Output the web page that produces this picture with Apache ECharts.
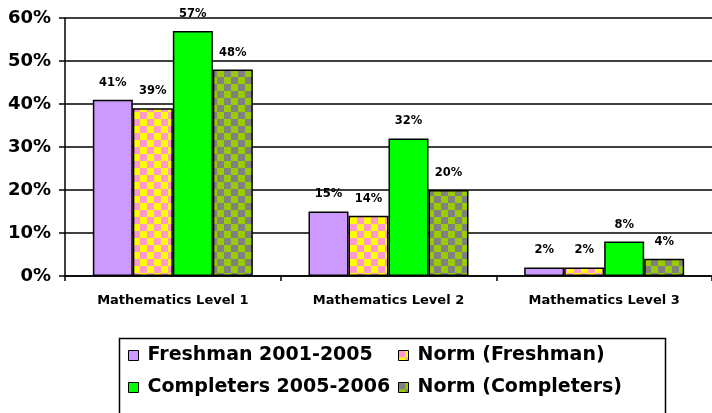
<!DOCTYPE html>
<html>
<head>
<meta charset="utf-8">
<script src="https://cdn.jsdelivr.net/npm/echarts@6/dist/echarts.min.js"></script>
<style>
html,body{margin:0;padding:0;background:#fff;}
#chart{width:712px;height:413px;}
</style>
</head>
<body>
<div id="chart"></div>
<script>
var categories = ['Mathematics Level 1', 'Mathematics Level 2', 'Mathematics Level 3'];
var seriesNames = ['Freshman 2001-2005', 'Norm (Freshman)', 'Completers 2005-2006', 'Norm (Completers)'];
var freshman = [41, 15, 2];
var normFreshman = [39, 14, 2];
var completers = [57, 32, 8];
var normCompleters = [48, 20, 4];
var yTicks = [0, 10, 20, 30, 40, 50, 60];

function checker(c1, c2, s) {
  var cv = document.createElement('canvas');
  cv.width = s * 2; cv.height = s * 2;
  var ctx = cv.getContext('2d');
  ctx.fillStyle = c1; ctx.fillRect(0, 0, s * 2, s * 2);
  ctx.fillStyle = c2; ctx.fillRect(0, 0, s, s); ctx.fillRect(s, s, s, s);
  return cv;
}
var yellowPat = { image: checker('#FFFF00', '#FF99CC', 7), repeat: 'repeat' };
var olivePat = { image: checker('#99CC00', '#808080', 7), repeat: 'repeat' };

var FONT = 'DejaVu Sans';
var chart = echarts.init(document.getElementById('chart'), null, { renderer: 'canvas' });

function mk(name, data, color) {
  return {
    name: name, type: 'bar', data: data, barWidth: 40, barGap: '0%',
    itemStyle: { color: color, borderColor: '#000', borderWidth: 1.5 },
    label: {
      show: true, position: 'top', distance: 11, formatter: '{c}%',
      fontFamily: FONT, fontWeight: 'bold', fontSize: 11.5, color: '#000'
    }
  };
}

var legendCommon = {
  orient: 'vertical', itemWidth: 10, itemHeight: 10, itemGap: 13,
  icon: 'rect', selectedMode: false,
  itemStyle: { borderColor: '#000', borderWidth: 1 },
  textStyle: { fontFamily: FONT, fontWeight: 'bold', fontSize: 19, color: '#000', padding: [0, 0, 0, 4] },
  padding: 0
};

chart.setOption({
  animation: false,
  backgroundColor: '#fff',
  grid: { left: 65, right: -1, top: 18, bottom: 137, containLabel: false },
  legend: [
    Object.assign({}, legendCommon, { data: [seriesNames[0], seriesNames[2]], left: 128, top: 346 }),
    Object.assign({}, legendCommon, { data: [seriesNames[1], seriesNames[3]], left: 398, top: 346 })
  ],
  graphic: [{
    type: 'rect', left: 117, top: 336,
    shape: { width: 546, height: 90 },
    style: { fill: 'none', stroke: '#000', lineWidth: 1.5 },
    z: -1
  }],
  xAxis: {
    type: 'category', data: categories,
    axisLine: { lineStyle: { color: '#000', width: 1.5 } },
    axisTick: { show: true, length: 5, lineStyle: { color: '#000', width: 1.5 } },
    axisLabel: { fontFamily: FONT, fontWeight: 'bold', fontSize: 13, color: '#000', margin: 18 }
  },
  yAxis: {
    type: 'value', min: yTicks[0], max: yTicks[yTicks.length - 1], interval: 10,
    axisLine: { show: true, lineStyle: { color: '#000', width: 1.5 } },
    axisTick: { show: true, length: 6, lineStyle: { color: '#000', width: 1.5 } },
    axisLabel: { formatter: '{value}%', fontFamily: FONT, fontWeight: 'bold', fontSize: 18, color: '#000', margin: 14 },
    splitLine: { show: true, lineStyle: { color: '#000', width: 1.5 } }
  },
  series: [
    mk(seriesNames[0], freshman, '#CC99FF'),
    mk(seriesNames[1], normFreshman, yellowPat),
    mk(seriesNames[2], completers, '#00FF00'),
    mk(seriesNames[3], normCompleters, olivePat)
  ]
});
</script>
</body>
</html>
